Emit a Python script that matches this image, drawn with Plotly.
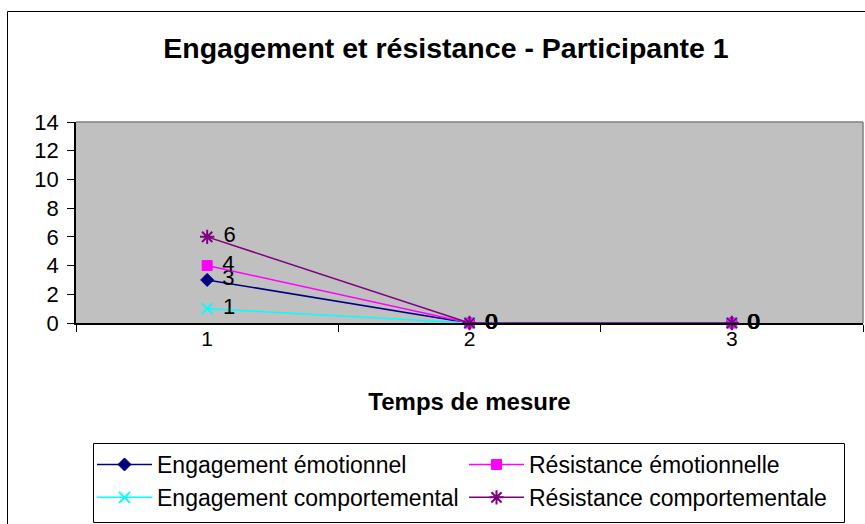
import plotly.graph_objects as go

categories = ["1", "2", "3"]
engagement_emotionnel = [3, 0, 0]
resistance_emotionnelle = [4, 0, 0]
engagement_comportemental = [1, 0, 0]
resistance_comportementale = [6, 0, 0]
y_ticks = [0, 2, 4, 6, 8, 10, 12, 14]

FONT = "Liberation Sans, Arial, sans-serif"
W, H = 865, 524
L, R, T, B = 76, 2, 122, 201
pw, ph = W - L - R, H - T - B

def px_x(px):
    return (px - L) / pw

def px_y(py):
    return (H - B - py) / ph

series = [
    ("Engagement émotionnel", engagement_emotionnel, "#000080", "diamond", 10, 1),
    ("Résistance émotionnelle", resistance_emotionnelle, "#FF00FF", "square", 10, 1),
    ("Engagement comportemental", engagement_comportemental, "#00FFFF", "x-thin-open", 11, 2),
    ("Résistance comportementale", resistance_comportementale, "#800080", "asterisk-open", 12, 2),
]

fig = go.Figure()
for name, vals, col, sym, sz, lw in series:
    fig.add_trace(go.Scatter(
        x=categories, y=vals, name=name, mode="lines+markers+text",
        text=[" \u200a" + str(v) for v in vals], textposition="middle right",
        textfont=dict(family=FONT, size=22, color="black"),
        line=dict(color=col, width=1.5),
        marker=dict(symbol=sym, size=sz, color=col, line=dict(color=col, width=lw)),
        cliponaxis=False,
    ))

fig.update_layout(
    width=W, height=H,
    margin=dict(l=L, r=R, t=T, b=B, autoexpand=False),
    paper_bgcolor="white", plot_bgcolor="#C0C0C0",
    font=dict(family=FONT, color="black"),
    title=dict(text="<b>Engagement et résistance - Participante 1</b>",
               font=dict(family=FONT, size=28.5, color="black"),
               xref="container", x=446 / W, xanchor="center",
               yref="container", y=1 - 48 / H, yanchor="middle"),
    showlegend=True,
    legend=dict(orientation="h", xref="container", x=92 / W, xanchor="left",
                yref="container", y=1 - 443 / H, yanchor="top",
                borderwidth=0, bgcolor="rgba(0,0,0,0)",
                entrywidth=302, entrywidthmode="pixels",
                font=dict(family=FONT, size=23, color="black"),
                itemwidth=55, tracegroupgap=0),
    xaxis=dict(type="category", range=[-0.5, 2.5], showgrid=False,
               showline=True, linecolor="black", linewidth=1.5,
               ticks="outside", tickson="boundaries", ticklen=7, tickcolor="black",
               tickfont=dict(family=FONT, size=21, color="black"),
               ticklabelstandoff=-4,
               automargin=False,
               title=dict(text="<b>Temps de mesure</b>", standoff=44,
                          font=dict(family=FONT, size=24, color="black"))),
    yaxis=dict(range=[0, 14], tickvals=y_ticks, showgrid=False,
               showline=True, linecolor="black", linewidth=1.5,
               ticks="outside", ticklen=7, tickcolor="black", automargin=False,
               ticklabelstandoff=4,
               tickfont=dict(family=FONT, size=22, color="black")),
)

# plot area top/right border (gray), legend box and outer chart border
fig.add_shape(type="line", xref="paper", yref="paper", x0=0, x1=1, y0=1, y1=1,
              line=dict(color="#808080", width=1.5))
fig.add_shape(type="line", xref="paper", yref="paper", x0=1, x1=1, y0=0, y1=1,
              line=dict(color="#808080", width=1.5))
fig.add_shape(type="rect", xref="paper", yref="paper",
              x0=px_x(93.5), x1=px_x(844.5), y0=px_y(522.5), y1=px_y(443.5),
              line=dict(color="black", width=1), layer="below")
fig.add_shape(type="rect", xref="paper", yref="paper",
              x0=px_x(7.5), x1=px_x(870), y0=px_y(530), y1=px_y(11.5),
              line=dict(color="black", width=1), layer="below")

fig.write_html("out.html", config={"displayModeBar": False},
               post_script="document.body.style.margin='0';")
